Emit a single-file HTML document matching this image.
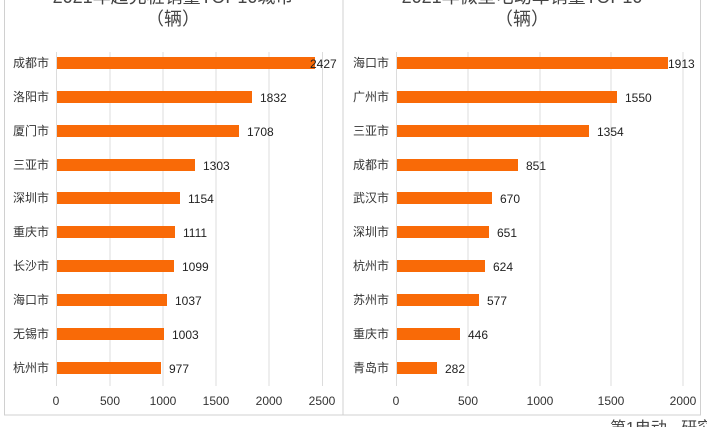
<!DOCTYPE html>
<html><head><meta charset="utf-8"><style>
html,body{margin:0;padding:0;background:#fff;}
svg{display:block;font-family:"Liberation Sans","Noto Sans CJK SC",sans-serif;}
</style></head><body>
<svg width="707" height="427" viewBox="0 0 707 427" xmlns="http://www.w3.org/2000/svg">
<rect x="0" y="0" width="707" height="427" fill="#fff"/>
<rect x="4.5" y="-5" width="338.5" height="420" fill="none" stroke="#d0d0d0"/>
<rect x="343" y="-5" width="357.5" height="420" fill="none" stroke="#d0d0d0"/>
<g font-size="18" fill="#444" text-anchor="middle">
<text x="173" y="3">2021年超充桩销量TOP10城市</text>
<text x="173" y="25">（辆）</text>
<text x="522" y="3">2021年微型电动车销量TOP10</text>
<text x="522" y="25">（辆）</text>
</g>
<g stroke="#dcdcdc" stroke-width="1">
<line x1="56.5" y1="52" x2="56.5" y2="386"/><line x1="110" y1="52" x2="110" y2="386"/><line x1="163" y1="52" x2="163" y2="386"/><line x1="216" y1="52" x2="216" y2="386"/><line x1="269" y1="52" x2="269" y2="386"/><line x1="322.5" y1="52" x2="322.5" y2="386"/>
<line x1="396.5" y1="52" x2="396.5" y2="386"/><line x1="468" y1="52" x2="468" y2="386"/><line x1="540" y1="52" x2="540" y2="386"/><line x1="611" y1="52" x2="611" y2="386"/><line x1="683" y1="52" x2="683" y2="386"/>
</g>
<g font-size="12" fill="#333" text-anchor="middle">
<text x="56" y="405">0</text><text x="110" y="405">500</text><text x="163" y="405">1000</text><text x="216" y="405">1500</text><text x="269" y="405">2000</text><text x="322" y="405">2500</text>
<text x="396" y="405">0</text><text x="468" y="405">500</text><text x="540" y="405">1000</text><text x="611" y="405">1500</text><text x="683" y="405">2000</text>
</g>
<g fill="#f96a07">
<rect x="57" y="57" width="258" height="12"/>
<rect x="57" y="91" width="195" height="12"/>
<rect x="57" y="125" width="182" height="12"/>
<rect x="57" y="159" width="138" height="12"/>
<rect x="57" y="192" width="123" height="12"/>
<rect x="57" y="226" width="118" height="12"/>
<rect x="57" y="260" width="117" height="12"/>
<rect x="57" y="294" width="110" height="12"/>
<rect x="57" y="328" width="107" height="12"/>
<rect x="57" y="362" width="104" height="12"/>
<rect x="397" y="57" width="271" height="12"/>
<rect x="397" y="91" width="220" height="12"/>
<rect x="397" y="125" width="192" height="12"/>
<rect x="397" y="159" width="121" height="12"/>
<rect x="397" y="192" width="95" height="12"/>
<rect x="397" y="226" width="92" height="12"/>
<rect x="397" y="260" width="88" height="12"/>
<rect x="397" y="294" width="82" height="12"/>
<rect x="397" y="328" width="63" height="12"/>
<rect x="397" y="362" width="40" height="12"/>
</g>
<g font-size="12" fill="#333" text-anchor="end">
<text x="49" y="67">成都市</text><text x="49" y="101">洛阳市</text><text x="49" y="135">厦门市</text><text x="49" y="169">三亚市</text><text x="49" y="202">深圳市</text><text x="49" y="236">重庆市</text><text x="49" y="270">长沙市</text><text x="49" y="304">海口市</text><text x="49" y="338">无锡市</text><text x="49" y="372">杭州市</text>
<text x="389" y="67">海口市</text><text x="389" y="101">广州市</text><text x="389" y="135">三亚市</text><text x="389" y="169">成都市</text><text x="389" y="202">武汉市</text><text x="389" y="236">深圳市</text><text x="389" y="270">杭州市</text><text x="389" y="304">苏州市</text><text x="389" y="338">重庆市</text><text x="389" y="372">青岛市</text>
</g>
<g font-size="12" fill="#222">
<text x="310" y="68">2427</text><text x="260" y="102">1832</text><text x="247" y="136">1708</text><text x="203" y="170">1303</text><text x="188" y="203">1154</text><text x="183" y="237">1111</text><text x="182" y="271">1099</text><text x="175" y="305">1037</text><text x="172" y="339">1003</text><text x="169" y="373">977</text>
<text x="668" y="68">1913</text><text x="625" y="102">1550</text><text x="597" y="136">1354</text><text x="526" y="170">851</text><text x="500" y="203">670</text><text x="497" y="237">651</text><text x="493" y="271">624</text><text x="487" y="305">577</text><text x="468" y="339">446</text><text x="445" y="373">282</text>
</g>
<g font-size="16" fill="#444"><text x="610" y="433">第1电动 · 研究院</text></g>
</svg>
</body></html>
